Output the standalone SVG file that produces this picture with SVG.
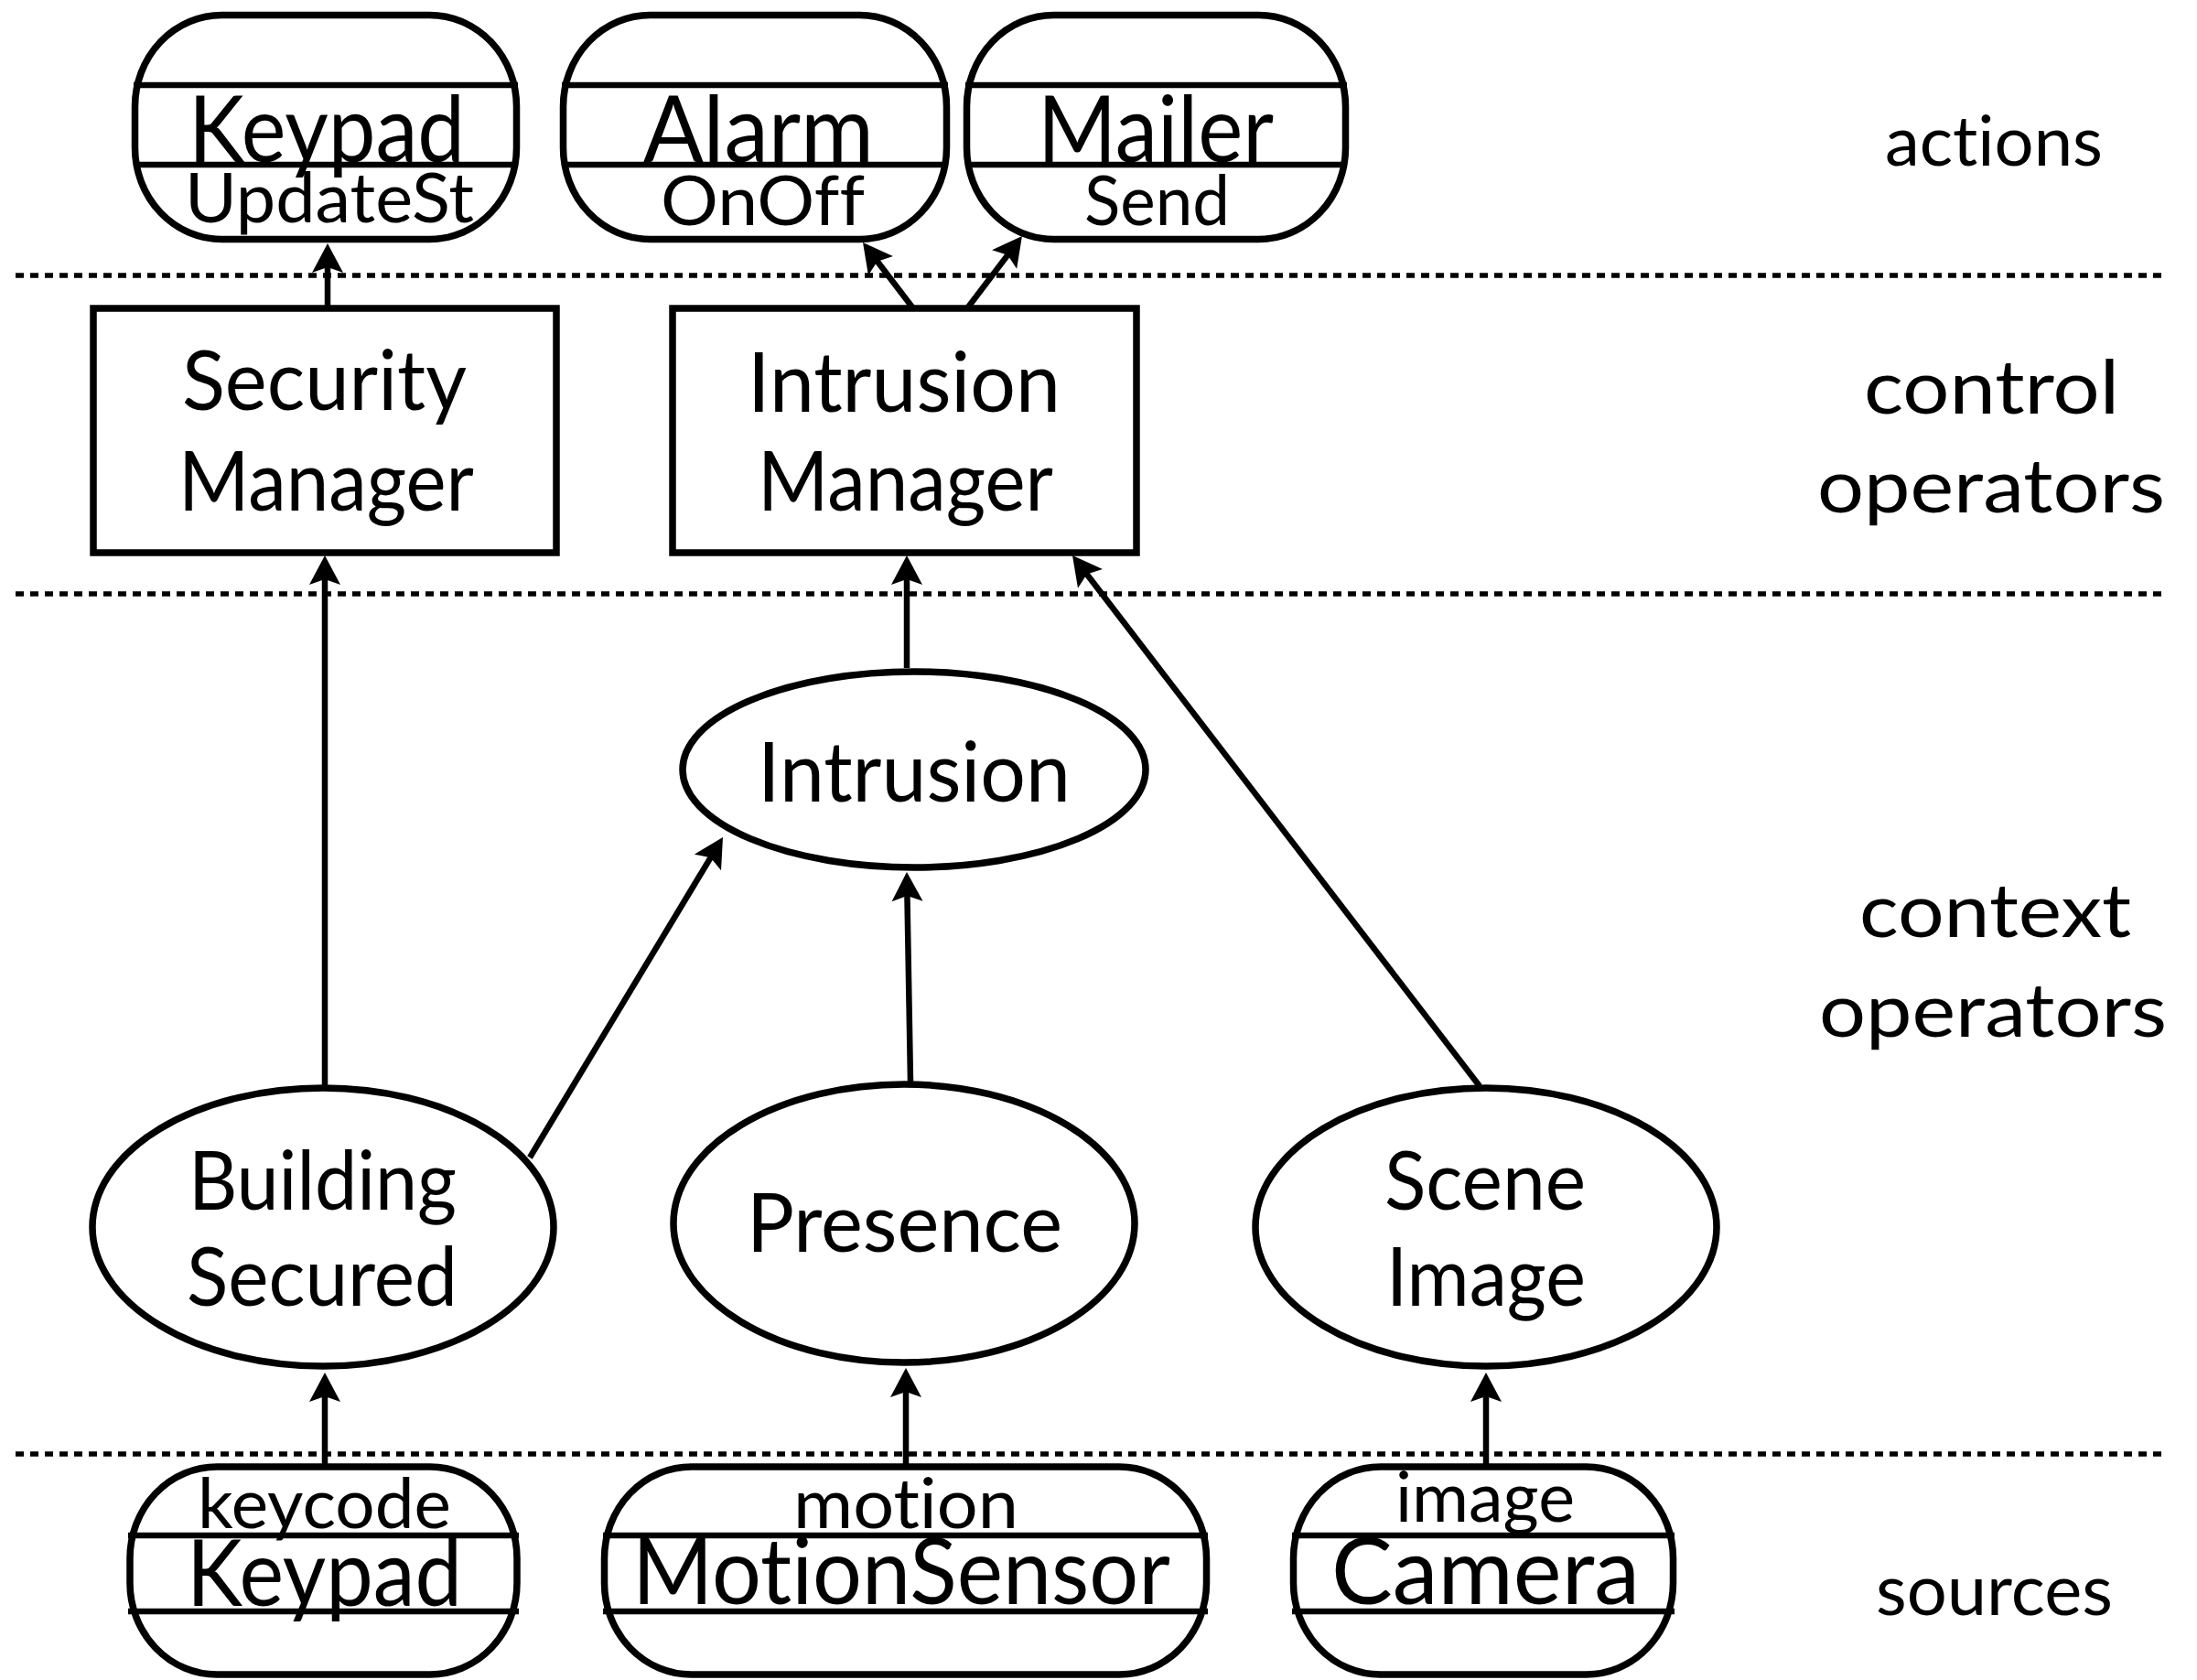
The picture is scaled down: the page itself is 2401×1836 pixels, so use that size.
<svg xmlns="http://www.w3.org/2000/svg" width="2401" height="1836" viewBox="0 0 2401 1836">
<style>
.bg{fill:#ffffff}
.node{fill:#ffffff;stroke:#000000;stroke-width:7.5}
.div{stroke:#000000;stroke-width:6.5;fill:none}
.sep{stroke:#000000;stroke-width:5.5;stroke-dasharray:9 7;fill:none}
.edge{stroke:#000000;stroke-width:6.5;fill:none;marker-end:url(#arr)}
text{font-family:Lato,"Open Sans","Liberation Sans",sans-serif;fill:#000000;font-variant-ligatures:none;font-feature-settings:"liga" 0,"clig" 0}
</style>
<defs>
<marker id="arr" markerUnits="userSpaceOnUse" markerWidth="40" markerHeight="36" viewBox="0 0 40 36" refX="26" refY="18" orient="auto">
<path d="M38,18 L6,1 L12,18 L6,35 Z" fill="#000000"/>
</marker>
</defs>
<rect class="bg" x="0" y="0" width="2401" height="1836"/>

<g id="layers">
<line class="sep" x1="17" y1="301" x2="2366" y2="301"/>
<line class="sep" x1="17" y1="649" x2="2366" y2="649"/>
<line class="sep" x1="17" y1="1589" x2="2366" y2="1589"/>
<text x="2060" y="181" font-size="76" textLength="238" lengthAdjust="spacingAndGlyphs">actions</text>
<text x="2037" y="452" font-size="82" textLength="279" lengthAdjust="spacingAndGlyphs">control</text>
<text x="1986" y="560" font-size="82" textLength="380" lengthAdjust="spacingAndGlyphs">operators</text>
<text x="2032" y="1024" font-size="82" textLength="297" lengthAdjust="spacingAndGlyphs">context</text>
<text x="1988" y="1133" font-size="82" textLength="380" lengthAdjust="spacingAndGlyphs">operators</text>
<text x="2050" y="1765" font-size="78" textLength="259" lengthAdjust="spacingAndGlyphs">sources</text>
</g>

<g id="connectors">
<line class="edge" x1="355" y1="1603" x2="355" y2="1512"/>
<line class="edge" x1="990" y1="1600" x2="990" y2="1507"/>
<line class="edge" x1="1624" y1="1600" x2="1624" y2="1512"/>
<line class="edge" x1="355" y1="1187" x2="355" y2="619"/>
<line class="edge" x1="579" y1="1265" x2="783.8" y2="925.3"/>
<line class="edge" x1="995" y1="1182" x2="991.2" y2="965"/>
<line class="edge" x1="991" y1="730" x2="991" y2="619"/>
<line class="edge" x1="1617" y1="1187" x2="1179.3" y2="616.5"/>
<line class="edge" x1="358" y1="337" x2="358" y2="278"/>
<line class="edge" x1="998" y1="337" x2="950.3" y2="274.5"/>
<line class="edge" x1="1057" y1="337" x2="1109.7" y2="267.6"/>
</g>

<g id="act-keypad">
<rect class="node" x="147.5" y="16.5" width="417" height="245" rx="95" ry="100"/>
<line class="div" x1="146" y1="93" x2="566" y2="93"/>
<line class="div" x1="146" y1="180" x2="566" y2="180"/>
<text x="206" y="177" font-size="100" textLength="302" lengthAdjust="spacingAndGlyphs">Keypad</text>
<text x="202" y="243" font-size="76" textLength="316" lengthAdjust="spacingAndGlyphs">UpdateSt</text>
</g>
<g id="act-alarm">
<rect class="node" x="615.5" y="16.5" width="419" height="245" rx="95" ry="100"/>
<line class="div" x1="614" y1="93" x2="1036" y2="93"/>
<line class="div" x1="614" y1="180" x2="1036" y2="180"/>
<text x="703" y="177" font-size="100" textLength="252" lengthAdjust="spacingAndGlyphs">Alarm</text>
<text x="722" y="246" font-size="76" textLength="223" lengthAdjust="spacingAndGlyphs">OnOff</text>
</g>
<g id="act-mailer">
<rect class="node" x="1056.5" y="16.5" width="414" height="245" rx="95" ry="100"/>
<line class="div" x1="1055" y1="93" x2="1472" y2="93"/>
<line class="div" x1="1055" y1="180" x2="1472" y2="180"/>
<text x="1134" y="177" font-size="100" textLength="258" lengthAdjust="spacingAndGlyphs">Mailer</text>
<text x="1185" y="246" font-size="76" textLength="159" lengthAdjust="spacingAndGlyphs">Send</text>
</g>

<g id="ctl-security">
<rect class="node" x="102" y="337" width="506" height="267"/>
<text x="199" y="448" font-size="92" textLength="311" lengthAdjust="spacingAndGlyphs">Security</text>
<text x="195" y="558" font-size="92" textLength="323" lengthAdjust="spacingAndGlyphs">Manager</text>
</g>
<g id="ctl-intrusion">
<rect class="node" x="735" y="337" width="507" height="267"/>
<text x="817" y="450" font-size="92" textLength="342" lengthAdjust="spacingAndGlyphs">Intrusion</text>
<text x="828" y="558" font-size="92" textLength="323" lengthAdjust="spacingAndGlyphs">Manager</text>
</g>

<g id="ctx-intrusion">
<ellipse class="node" cx="999" cy="841" rx="253" ry="107"/>
<text x="828" y="876" font-size="92" textLength="342" lengthAdjust="spacingAndGlyphs">Intrusion</text>
</g>
<g id="ctx-building">
<ellipse class="node" cx="353" cy="1341" rx="252" ry="152"/>
<text x="206" y="1322" font-size="90" textLength="293" lengthAdjust="spacingAndGlyphs">Building</text>
<text x="204" y="1427" font-size="90" textLength="296" lengthAdjust="spacingAndGlyphs">Secured</text>
</g>
<g id="ctx-presence">
<ellipse class="node" cx="988" cy="1337" rx="252" ry="152"/>
<text x="816" y="1368" font-size="90" textLength="345" lengthAdjust="spacingAndGlyphs">Presence</text>
</g>
<g id="ctx-scene">
<ellipse class="node" cx="1624" cy="1341" rx="252" ry="152"/>
<text x="1513" y="1322" font-size="90" textLength="220" lengthAdjust="spacingAndGlyphs">Scene</text>
<text x="1515" y="1427" font-size="90" textLength="218" lengthAdjust="spacingAndGlyphs">Image</text>
</g>

<g id="src-keypad">
<rect class="node" x="142" y="1603" width="423" height="227" rx="95" ry="100"/>
<line class="div" x1="140" y1="1678" x2="567" y2="1678"/>
<line class="div" x1="140" y1="1761" x2="567" y2="1761"/>
<text x="216" y="1670" font-size="76" textLength="277" lengthAdjust="spacingAndGlyphs">keycode</text>
<text x="204" y="1755" font-size="100" textLength="301" lengthAdjust="spacingAndGlyphs">Keypad</text>
</g>
<g id="src-motion">
<rect class="node" x="660.5" y="1603" width="658" height="227" rx="95" ry="100"/>
<line class="div" x1="659" y1="1678" x2="1320" y2="1678"/>
<line class="div" x1="659" y1="1761" x2="1320" y2="1761"/>
<text x="867" y="1670" font-size="76" textLength="246" lengthAdjust="spacingAndGlyphs">motion</text>
<text x="691" y="1753" font-size="100" textLength="588" lengthAdjust="spacingAndGlyphs">MotionSensor</text>
</g>
<g id="src-camera">
<rect class="node" x="1413.5" y="1603" width="415" height="227" rx="95" ry="100"/>
<line class="div" x1="1412" y1="1678" x2="1830" y2="1678"/>
<line class="div" x1="1412" y1="1761" x2="1830" y2="1761"/>
<text x="1525" y="1663" font-size="76" textLength="196" lengthAdjust="spacingAndGlyphs">image</text>
<text x="1455" y="1753" font-size="100" textLength="337" lengthAdjust="spacingAndGlyphs">Camera</text>
</g>
</svg>
